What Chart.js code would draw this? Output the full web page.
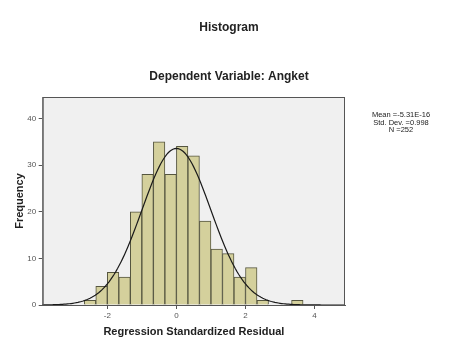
<!DOCTYPE html>
<html>
<head>
<meta charset="utf-8">
<script src="https://cdn.jsdelivr.net/npm/chart.js@4/dist/chart.umd.min.js"></script>
<style>
  html, body { margin: 0; padding: 0; background: #fff; }
  #wrap { width: 458px; height: 351px; }
</style>
</head>
<body>
<div id="wrap"><canvas id="histChart" width="458" height="351"></canvas></div>
<script>
// histogram bins (width 1/3), centers and counts
const binCenters = [-2.5, -2.1667, -1.8333, -1.5, -1.1667, -0.8333, -0.5, -0.1667,
  0.1667, 0.5, 0.8333, 1.1667, 1.5, 1.8333, 2.1667, 2.5, 3.5]
const counts = [1, 4, 7, 6, 20, 28, 35, 28, 34, 32, 18, 12, 11, 6, 8, 1, 1]

// stats shown at the right of the chart
const mean = -5.31e-16
const stdDev = 0.998
const n = 252
const binWidth = 1 / 3
const statLines = ['Mean =-5.31E-16', 'Std. Dev. =0.998', 'N =252']

const xTicks = [-2, 0, 2, 4]
const yTicks = [0, 10, 20, 30, 40]

document.addEventListener('DOMContentLoaded', () => {
  const canvas = document.getElementById('histChart')
  const ctx = canvas.getContext('2d')
  const fontFamily = '"Liberation Sans", Arial, sans-serif'

  // fitted normal curve from the stats
  const curve = []
  for (let x = -3.9; x <= 4.9; x += 0.05) {
    const z = (x - mean) / stdDev
    curve.push({ x: x, y: n * binWidth * Math.exp(-0.5 * z * z) / (stdDev * Math.sqrt(2 * Math.PI)) })
  }

  const bars = binCenters.map((c, i) => ({ x: c, y: counts[i] }))

  const plotFrame = {
    id: 'plotFrame',
    beforeDatasetsDraw(chart) {
      const a = chart.chartArea
      const c = chart.ctx
      c.save()
      c.fillStyle = '#f0f0f0'
      c.fillRect(a.left, a.top, a.right - a.left, a.bottom - a.top)
      c.restore()
    },
    afterDatasetsDraw(chart) {
      const a = chart.chartArea
      const c = chart.ctx
      c.save()
      c.strokeStyle = '#555'
      c.lineWidth = 1
      c.strokeRect(a.left + 0.5, a.top + 0.5, a.right - a.left - 1, a.bottom - a.top)
      c.restore()
    },
    afterDraw(chart) {
      const c = chart.ctx
      c.save()
      c.font = '7.5px ' + fontFamily
      c.fillStyle = '#222'
      c.textAlign = 'center'
      c.textBaseline = 'middle'
      statLines.forEach((t, i) => c.fillText(t, 401, 115 + i * 7.5))
      c.restore()
    }
  }

  new Chart(ctx, {
    type: 'bar',
    data: {
      datasets: [{
        type: 'line',
        data: curve,
        borderColor: '#1a1a1a',
        borderWidth: 1.2,
        pointRadius: 0,
        fill: false,
        tension: 0,
        order: 0
      }, {
        data: bars,
        backgroundColor: '#d4d09c',
        borderColor: '#55553f',
        borderWidth: 1,
        borderSkipped: 'start',
        barPercentage: 1,
        categoryPercentage: 1,
        grouped: false,
        order: 1
      }]
    },
    options: {
      responsive: false,
      animation: false,
      events: [],
      layout: { padding: 0 },
      plugins: {
        legend: { display: false },
        tooltip: { enabled: false },
        title: {
          display: true,
          text: 'Histogram',
          color: '#222',
          font: { family: fontFamily, size: 12, weight: 'bold' },
          padding: { top: 20.8, bottom: 0 }
        },
        subtitle: {
          display: true,
          text: 'Dependent Variable: Angket',
          color: '#222',
          font: { family: fontFamily, size: 12, weight: 'bold' },
          padding: { top: 34.6, bottom: 12.8 }
        }
      },
      scales: {
        x: {
          type: 'linear',
          min: -3.87,
          max: 4.88,
          offset: false,
          afterFit(scale) { scale.height = 46 },
          afterBuildTicks(scale) { scale.ticks = xTicks.map(v => ({ value: v })) },
          grid: { display: true, drawOnChartArea: false, drawTicks: true, tickLength: 4, color: '#555', offset: false },
          border: { display: true, color: '#555' },
          ticks: { color: '#555', font: { family: fontFamily, size: 8 }, padding: 2, maxRotation: 0 },
          title: {
            display: true,
            text: 'Regression Standardized Residual',
            color: '#222',
            font: { family: fontFamily, size: 11, weight: 'bold' },
            padding: { top: 4, bottom: 12.4 }
          }
        },
        y: {
          min: 0,
          max: 44.6,
          afterFit(scale) { scale.width = 42.7 },
          afterBuildTicks(scale) { scale.ticks = yTicks.map(v => ({ value: v })) },
          grid: { display: true, drawOnChartArea: false, drawTicks: true, tickLength: 4, color: '#555' },
          border: { display: true, color: '#555' },
          ticks: { color: '#555', font: { family: fontFamily, size: 8 }, padding: 2.5 },
          title: {
            display: true,
            text: 'Frequency',
            color: '#222',
            font: { family: fontFamily, size: 11, weight: 'bold' },
            padding: { top: 13.4, bottom: 4 }
          }
        },
        // empty right-hand axis that reserves room for the stats text
        side: {
          position: 'right',
          display: true,
          min: 0,
          max: 1,
          afterFit(scale) { scale.width = 113 },
          grid: { display: false, drawTicks: false },
          border: { display: false },
          ticks: { display: false }
        }
      }
    },
    plugins: [plotFrame]
  })
})
</script>
</body>
</html>
